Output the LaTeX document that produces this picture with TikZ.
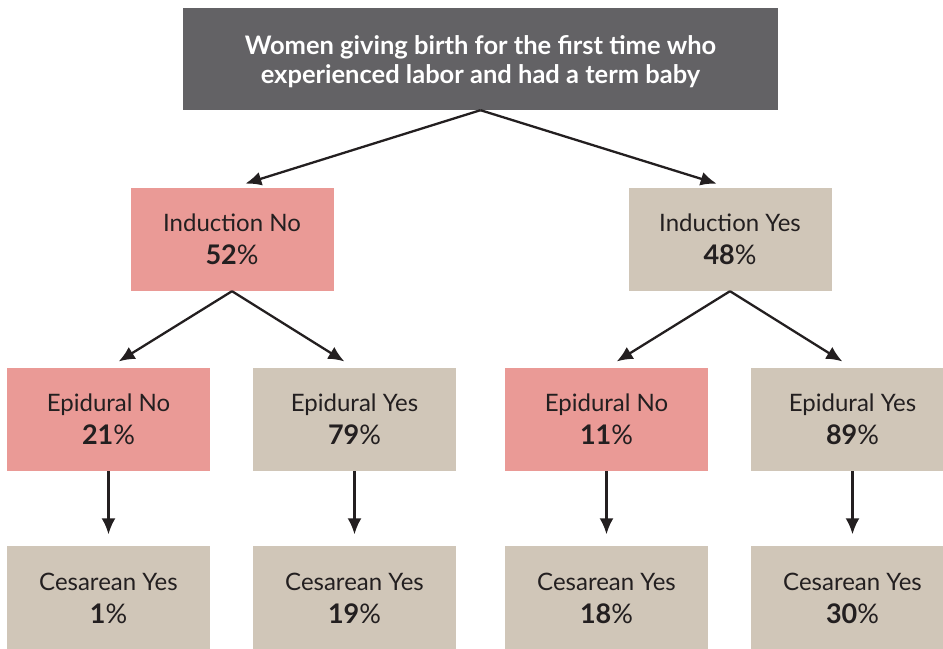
\documentclass[tikz,border=0pt]{standalone}
\usepackage{fontspec}
\setmainfont{Lato}
\usetikzlibrary{arrows.meta}
\definecolor{headgray}{HTML}{636265}
\definecolor{nopink}{HTML}{EA9A96}
\definecolor{yesbeige}{HTML}{D0C6B8}
\definecolor{inkdark}{HTML}{231F20}
\tikzset{
  box/.style={inner sep=0pt,minimum width=203bp,minimum height=103bp,align=center,
    text=inkdark,font=\fontsize{24bp}{33bp}\selectfont},
  nobox/.style={box,fill=nopink},
  yesbox/.style={box,fill=yesbeige},
  link/.style={inkdark,line width=2.3bp,->,shorten >=12bp},
}
\newcommand{\pct}[1]{{\fontsize{27bp}{33bp}\selectfont\textbf{#1}\%}}
\begin{document}
\begin{tikzpicture}[>={Latex[length=16bp,width=14bp]},line join=bevel,]
\useasboundingbox (0,0) rectangle (943bp,649bp);
\clip (0,0) rectangle (943bp,649bp);
%%
\node (node_top) at (480.5bp,590bp) [box,fill=headgray,minimum width=595bp,minimum height=102bp,text=white,font=\bfseries\fontsize{25.5bp}{29bp}\selectfont] {\rule{0pt}{25bp}Women giving birth for the first time who\\experienced labor and had a term baby};
\node (node_indno) at (232bp,409.5bp) [nobox] {Induction No\\\pct{52}};
\node (node_indyes) at (730bp,409.5bp) [yesbox] {Induction Yes\\\pct{48}};
%
\node (node_epino_a) at (108.5bp,229.5bp) [nobox] {Epidural No\\\pct{21}};
\node (node_epiyes_a) at (354.5bp,229.5bp) [yesbox] {Epidural Yes\\\pct{79}};
\node (node_epino_b) at (606.5bp,229.5bp) [nobox] {Epidural No\\\pct{11}};
\node (node_epiyes_b) at (852.5bp,229.5bp) [yesbox] {Epidural Yes\\\pct{89}};
%
\node (node_ces_a) at (108.5bp,51bp) [yesbox] {Cesarean Yes\\\pct{1}};
\node (node_ces_b) at (354.5bp,51bp) [yesbox] {Cesarean Yes\\\pct{19}};
\node (node_ces_c) at (606.5bp,51bp) [yesbox] {Cesarean Yes\\\pct{18}};
\node (node_ces_d) at (852.5bp,51bp) [yesbox] {Cesarean Yes\\\pct{30}};
%%
\draw [link,shorten >=14bp] (node_top.south) -- (node_indno.north);
\draw [link,shorten >=14bp] (node_top.south) -- (node_indyes.north);
\draw [link] (node_indno.south) -- (node_epino_a.north);
\draw [link] (node_indno.south) -- (node_epiyes_a.north);
\draw [link] (node_indyes.south) -- (node_epino_b.north);
\draw [link] (node_indyes.south) -- (node_epiyes_b.north);
\draw [link] (node_epino_a) -- (node_ces_a);
\draw [link] (node_epiyes_a) -- (node_ces_b);
\draw [link] (node_epino_b) -- (node_ces_c);
\draw [link] (node_epiyes_b) -- (node_ces_d);
%
\end{tikzpicture}
\end{document}
